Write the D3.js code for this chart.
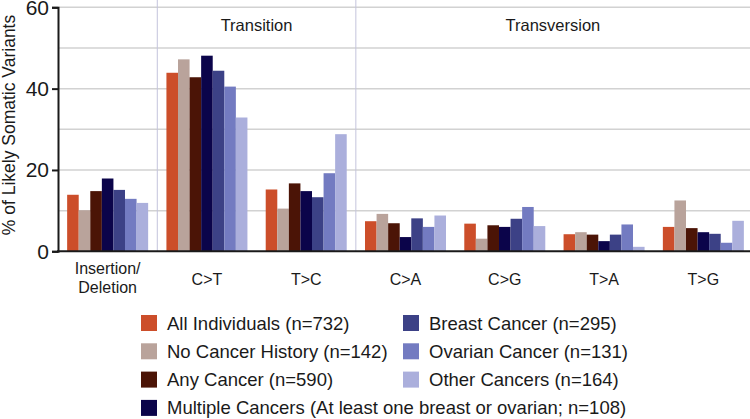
<!DOCTYPE html>
<html>
<head>
<meta charset="utf-8">
<script src="https://cdn.jsdelivr.net/npm/d3@7"></script>
<style>
  body { margin: 0; background: #fff; }
  svg { display: block; font-family: "Liberation Sans", Arial, sans-serif; }
</style>
</head>
<body>
<div id="chart"></div>
<script>
// Categories and group headers
const categories = ["Insertion/Deletion", "C>T", "T>C", "C>A", "C>G", "T>A", "T>G"];
const categoryLines = [["Insertion/", "Deletion"], ["C>T"], ["T>C"], ["C>A"], ["C>G"], ["T>A"], ["T>G"]];
const groups = [
  { name: "Transition", from: 1, to: 2 },
  { name: "Transversion", from: 3, to: 6 }
];

// Series labels (legend order)
const seriesNames = [
  "All Individuals (n=732)",
  "No Cancer History (n=142)",
  "Any Cancer (n=590)",
  "Multiple Cancers (At least one breast or ovarian; n=108)",
  "Breast Cancer (n=295)",
  "Ovarian Cancer (n=131)",
  "Other Cancers (n=164)"
];
const seriesColors = ["#cc4e2a", "#b9a39b", "#4b1406", "#0b044a", "#3c4186", "#737bc1", "#abafdc"];

// Values per series, one per category
const allIndividuals = [13.9, 43.9, 15.2, 7.4, 6.8, 4.2, 6.0];
const noCancerHistory = [10.1, 47.2, 10.5, 9.2, 3.1, 4.7, 12.5];
const anyCancer = [14.8, 42.8, 16.7, 6.9, 6.4, 4.1, 5.7];
const multipleCancers = [17.9, 48.1, 14.8, 3.5, 6.0, 2.5, 4.7];
const breastCancer = [15.1, 44.4, 13.3, 8.1, 8.0, 4.1, 4.3];
const ovarianCancer = [12.9, 40.5, 19.2, 6.0, 10.9, 6.6, 2.1];
const otherCancers = [11.9, 32.9, 28.8, 8.8, 6.2, 1.1, 7.5];
const seriesValues = [allIndividuals, noCancerHistory, anyCancer, multipleCancers,
  breastCancer, ovarianCancer, otherCancers];

const yTicks = [0, 20, 40, 60];
const yGrid = [10, 20, 30, 40, 50, 60];

const width = 750, height = 419;
const svg = d3.select("#chart").append("svg")
  .attr("width", width).attr("height", height);

// Scales
const x0 = d3.scaleBand().domain(categories).range([58, 753]).padding(0);
const x1 = d3.scaleBand().domain(d3.range(seriesNames.length))
  .range([0, x0.bandwidth()]).paddingInner(0).paddingOuter(0.79);
const y = d3.scaleLinear().domain([0, 60]).range([251.3, 7.3]);

// Gridlines
svg.append("g").selectAll("line").data(yGrid).join("line")
  .attr("x1", 58).attr("x2", width)
  .attr("y1", d => y(d)).attr("y2", d => y(d))
  .attr("stroke", "#d2d2d2").attr("stroke-width", 1.5);

// Group dividers
const dividers = [x0(categories[1]), x0(categories[3])];
svg.append("g").selectAll("line").data(dividers).join("line")
  .attr("x1", d => d).attr("x2", d => d)
  .attr("y1", 0).attr("y2", y(0))
  .attr("stroke", "#c4c4dc").attr("stroke-width", 1);

// Group headers
svg.append("g").selectAll("text").data(groups).join("text")
  .attr("x", d => (x0(categories[d.from]) + Math.min(width, x0(categories[d.to]) + x0.bandwidth())) / 2)
  .attr("y", 31)
  .attr("text-anchor", "middle")
  .style("font-size", "16.5px").attr("fill", "#1a1a1a")
  .text(d => d.name);

// Bars
const cat = svg.append("g").selectAll("g").data(categories).join("g")
  .attr("transform", d => `translate(${x0(d)},0)`);
cat.selectAll("rect")
  .data((c, ci) => seriesValues.map((vals, si) => ({ si, v: vals[ci] })))
  .join("rect")
  .attr("x", d => x1(d.si))
  .attr("width", x1.bandwidth())
  .attr("y", d => y(d.v))
  .attr("height", d => y(0) - y(d.v))
  .attr("fill", d => seriesColors[d.si]);

// Y axis
const yAxis = d3.axisLeft(y).tickValues(yTicks).tickSize(6).tickPadding(3);
const gy = svg.append("g").attr("transform", "translate(58,0)").call(yAxis);
gy.select(".domain").attr("stroke", "#1a1a1a").attr("stroke-width", 2);
gy.selectAll(".tick line").attr("stroke", "#1a1a1a").attr("stroke-width", 2);
gy.selectAll(".tick text").style("font-size", "21px").attr("fill", "#1a1a1a")
  .style("font-family", "'Liberation Sans', Arial, sans-serif");

// Baseline
svg.append("line")
  .attr("x1", 57).attr("x2", width)
  .attr("y1", y(0)).attr("y2", y(0))
  .attr("stroke", "#1a1a1a").attr("stroke-width", 2);

// Category labels
const xl = svg.append("g").selectAll("text").data(categories).join("text")
  .attr("x", d => x0(d) + x0.bandwidth() / 2)
  .attr("text-anchor", "middle")
  .style("font-size", "16px").attr("fill", "#1a1a1a");
xl.each(function (d, i) {
  const lines = categoryLines[i];
  const t = d3.select(this);
  lines.forEach((ln, k) => {
    t.append("tspan")
      .attr("x", x0(d) + x0.bandwidth() / 2)
      .attr("y", lines.length === 1 ? 285 : 274 + k * 19)
      .text(ln);
  });
});

// Y title
svg.append("text")
  .attr("transform", "translate(15,125) rotate(-90)")
  .attr("text-anchor", "middle")
  .style("font-size", "17.5px").attr("fill", "#1a1a1a")
  .text("% of Likely Somatic Variants");

// Legend
const legendPos = (i) => i < 4 ? [141, 315 + i * 28.3] : [403, 315 + (i - 4) * 28.3];
const lg = svg.append("g").selectAll("g").data(seriesNames).join("g")
  .attr("transform", (d, i) => `translate(${legendPos(i)[0]},${legendPos(i)[1]})`);
lg.append("rect").attr("width", 16).attr("height", 16)
  .attr("fill", (d, i) => seriesColors[i]);
lg.append("text").attr("x", 26).attr("y", 14.5)
  .style("font-size", "18.5px").attr("fill", "#1a1a1a")
  .text(d => d);
</script>
</body>
</html>
